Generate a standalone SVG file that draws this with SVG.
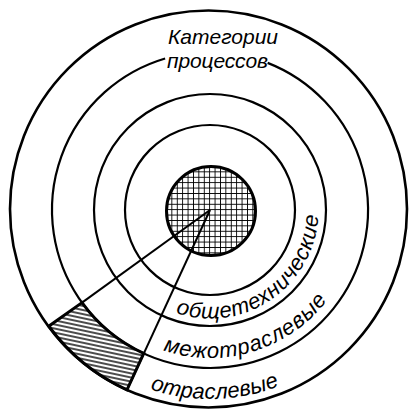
<svg xmlns="http://www.w3.org/2000/svg" width="409" height="413" viewBox="0 0 409 413">
<style>
.ring{fill:none;stroke:#000;stroke-width:2.2}
.lbl{font-family:"Liberation Sans Narrow","Liberation Sans",Arial,sans-serif;font-style:italic;font-size:22px;fill:#000}
.ttl{font-size:21px}
.conn{stroke:#000;stroke-width:2;fill:none}
</style>
<defs>
<pattern id="grid" patternUnits="userSpaceOnUse" x="166" y="166" width="5.4" height="5.4">
<rect width="5.4" height="5.4" fill="#fff"/>
<path d="M0 0H5.4M0 0V5.4" stroke="#000" stroke-width="1.8"/>
</pattern>
<pattern id="hatch" patternUnits="userSpaceOnUse" width="20" height="4" patternTransform="rotate(12)">
<rect width="20" height="4" fill="#fff"/>
<path d="M0 2H20" stroke="#000" stroke-width="1.4"/>
</pattern>
<path id="p1" d="M175.6 312.9A108.5 108.5 0 0 0 316.9 191.2"/>
<path id="p2" d="M163.0 350.3A148 148 0 0 0 349.1 260.6"/>
<path id="p3" d="M150.0 389.2A189 189 0 0 0 331.5 354.8"/>
</defs>
<rect width="409" height="413" fill="#fff"/>
<g id="ring-outer"><circle class="ring" cx="208.5" cy="209" r="198.5" style="stroke-width:2.6"/></g>
<g id="ring-2"><path class="ring" d="M267.65 62.89A158 158 0 1 1 165.13 58.51"/></g>
<g id="ring-3"><circle class="ring" cx="210" cy="210" r="116"/></g>
<g id="ring-4"><circle class="ring" cx="210" cy="210" r="85"/></g>
<g id="sector"><path d="M82.0 302.6L48.8 326.2A198.5 198.5 0 0 0 127.0 389.8L143.7 353.4A158 158 0 0 1 82.0 302.6Z" fill="url(#hatch)" stroke="#000" stroke-width="3" stroke-linejoin="miter"/></g>
<g id="core"><circle cx="211" cy="211" r="44.5" fill="url(#grid)" stroke="#000" stroke-width="3"/></g>
<g id="connectors">
<path class="conn" d="M210 210L82.0 302.6"/>
<path class="conn" d="M210 210L127.0 389.8"/>
</g>
<g id="title">
<text class="lbl ttl" x="168" y="44" textLength="110" lengthAdjust="spacing">Категории</text>
<text class="lbl ttl" x="167" y="68" textLength="101" lengthAdjust="spacing">процессов</text>
</g>
<g id="label-general"><text class="lbl"><textPath href="#p1" textLength="200" lengthAdjust="spacing">общетехнические</textPath></text></g>
<g id="label-inter"><text class="lbl"><textPath href="#p2" textLength="183" lengthAdjust="spacing">межотраслевые</textPath></text></g>
<g id="label-branch"><text class="lbl"><textPath href="#p3" textLength="132" lengthAdjust="spacing">отраслевые</textPath></text></g>
</svg>
